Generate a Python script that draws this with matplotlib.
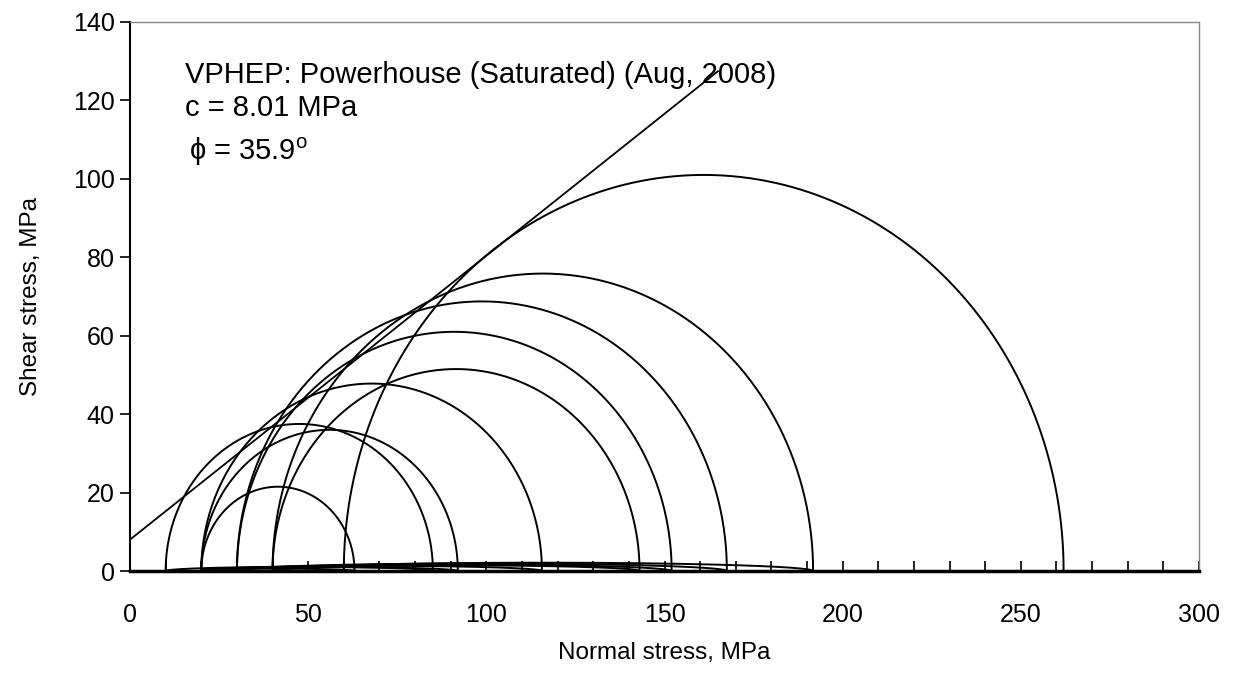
import numpy as np
import matplotlib
matplotlib.use("Agg")
import matplotlib.pyplot as plt
from matplotlib.ticker import MultipleLocator

plt.rcParams['font.family'] = ['Liberation Sans', 'DejaVu Sans']
plt.rcParams['mathtext.fontset'] = 'custom'
plt.rcParams['mathtext.rm'] = 'Liberation Sans'

# Mohr circles: minor and major principal stresses (MPa)
sigma3 = [20, 10, 20, 20, 40, 30, 30, 40, 60]
sigma1 = [63, 85, 92, 115.6, 143, 152, 167.5, 191.7, 262]

# Mohr-Coulomb envelope
cohesion = 8.01
phi_deg = 35.9
envelope_x = [0, 165]

title_lines = ["VPHEP: Powerhouse (Saturated) (Aug, 2008)", "c = 8.01 MPa"]

fig = plt.figure(figsize=(12.43, 6.81), dpi=100)
ax = fig.add_axes([0.1046, 0.1615, 0.8600, 0.8062])

for s3, s1 in zip(sigma3, sigma1):
    c = (s1 + s3) / 2.0
    r = (s1 - s3) / 2.0
    t = np.linspace(0, np.pi, 400)
    ax.plot(c + r * np.cos(t), r * np.sin(t), color='black', lw=1.4)

# flattened lower traces hugging the axis
for s3, s1 in zip(sigma3[:-1], sigma1[:-1]):
    c = (s1 + s3) / 2.0
    r = (s1 - s3) / 2.0
    t = np.linspace(0, np.pi, 200)
    ax.plot(c + r * np.cos(t), 0.028 * r * np.sin(t), color='black', lw=1.4)

ex = np.array(envelope_x, dtype=float)
ax.plot(ex, cohesion + np.tan(np.radians(phi_deg)) * ex, color='black', lw=1.3)

ax.set_xlim(0, 300)
ax.set_ylim(0, 140)
ax.xaxis.set_major_locator(MultipleLocator(50))
ax.xaxis.set_minor_locator(MultipleLocator(10))
ax.yaxis.set_major_locator(MultipleLocator(20))

ax.tick_params(axis='x', which='both', direction='in', length=7, width=1.2,
               labelsize=18, pad=23, top=False)
ax.tick_params(axis='y', which='major', direction='out', length=7, width=1.2,
               labelsize=18, pad=4, right=False)

for s in ['top', 'right']:
    ax.spines[s].set_color('#888888')
    ax.spines[s].set_linewidth(1.0)
ax.spines['left'].set_color('black')
ax.spines['left'].set_linewidth(1.5)
ax.spines['bottom'].set_color('black')
ax.spines['bottom'].set_linewidth(2.5)

ax.set_xlabel('Normal stress, MPa', fontsize=17.5, labelpad=11)
ax.set_ylabel('Shear stress, MPa', fontsize=17.5, labelpad=22)

ax.text(15.5, 126.5, title_lines[0], fontsize=21, va='center', ha='left')
ax.text(15.5, 118, title_lines[1], fontsize=21, va='center', ha='left')
ax.text(16.5, 107, r'ϕ = 35.9$^{\rm o}$', fontsize=21, va='center', ha='left')

fig.savefig('out.png', dpi=100)
